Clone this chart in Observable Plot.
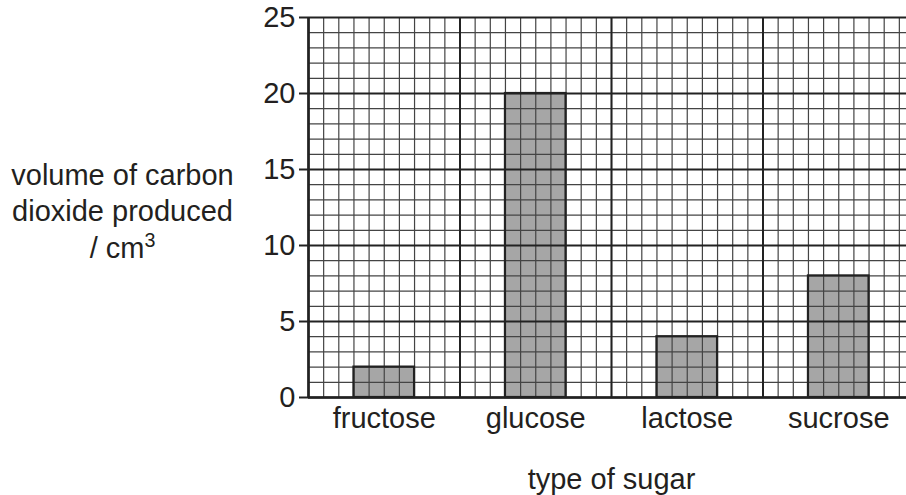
<!DOCTYPE html>
<html>
<head>
<meta charset="utf-8">
<script src="https://cdn.jsdelivr.net/npm/d3@7"></script>
<script src="https://cdn.jsdelivr.net/npm/@observablehq/plot@0.6"></script>
<style>
  html, body { margin: 0; padding: 0; background: #fff; overflow: hidden; }
  svg { overflow: hidden; }
</style>
</head>
<body>
<div id="chart"></div>
<script>
const categories = ["fructose", "glucose", "lactose", "sucrose"];
const values = [2, 20, 4, 8];
const yTicks = [0, 5, 10, 15, 20, 25];
const yLabelLines = ["volume of carbon", "dioxide produced", "/ cm³"];
const xLabel = "type of sugar";

const cellsPerCat = 10;
const data = categories.map((c, i) => ({
  cat: c,
  value: values[i],
  x1: i * cellsPerCat + 3,
  x2: i * cellsPerCat + 7,
  xc: i * cellsPerCat + 5
}));

const nCells = categories.length * cellsPerCat;
const minorX = d3.range(0, nCells + 1);
const majorX = d3.range(0, nCells + 1, cellsPerCat);
const minorY = d3.range(0, 26);
const majorY = yTicks;

const font = "'Liberation Sans', Arial, Helvetica, sans-serif";
const ink = "#231f20";
const fs = 29;

const chart = Plot.plot({
  width: 906,
  height: 495,
  marginLeft: 308,
  marginRight: -8,
  marginTop: 17,
  marginBottom: 98,
  style: { fontFamily: font, fontSize: fs + "px", color: ink, background: "#fff", overflow: "hidden" },
  x: { type: "linear", domain: [0, nCells], range: [308, 914], axis: null },
  y: { domain: [0, 25], range: [397, 17], axis: null },
  marks: [
    Plot.rect(data, { x1: "x1", x2: "x2", y1: 0, y2: "value", fill: "#a6a6a6" }),
    Plot.ruleX(minorX, { x: d => d, y1: 0, y2: 25, stroke: "#444", strokeWidth: 1.2 }),
    Plot.ruleY(minorY, { y: d => d, x1: 0, x2: nCells, stroke: "#444", strokeWidth: 1.2 }),
    Plot.ruleX(majorX, { x: d => d, y1: 0, y2: 25, stroke: "#222", strokeWidth: 2 }),
    Plot.ruleY(majorY, { y: d => d, x1: 0, x2: nCells, stroke: "#222", strokeWidth: 2 }),
    Plot.rect(data, { x1: "x1", x2: "x2", y1: 0, y2: "value", fill: "none", stroke: "#222", strokeWidth: 2.2 }),
    Plot.ruleX([0], { y1: 0, y2: 25, stroke: "#222", strokeWidth: 2.5 }),
    Plot.ruleY([0], { x1: 0, x2: nCells, stroke: "#222", strokeWidth: 2.5 }),
    Plot.ruleY(yTicks, { y: d => d, x1: 0, x2: 0, insetLeft: -9, stroke: "#222", strokeWidth: 2 }),
    Plot.text(yTicks, { y: d => d, x: 0, text: d => String(d), textAnchor: "end", dx: -13, fill: ink, fontSize: fs }),
    Plot.text(data, { x: "xc", y: 0, text: "cat", lineAnchor: "top", dy: 10, fill: ink, fontSize: fs }),
    Plot.text([xLabel], { frameAnchor: "bottom", text: d => d, lineAnchor: "middle", dy: 82, fill: ink, fontSize: fs }),
    Plot.text([yLabelLines.join("\n")], { frameAnchor: "left", text: d => d, textAnchor: "middle", lineAnchor: "middle", dx: -186, dy: 2, lineHeight: 1.26, fill: ink, fontSize: fs })
  ]
});
document.getElementById("chart").appendChild(chart);

// render the "³" as a proper superscript
chart.querySelectorAll("tspan, text").forEach(el => {
  if (el.childNodes.length === 1 && el.firstChild.nodeType === 3 && el.textContent.includes("³")) {
    const txt = el.textContent;
    el.textContent = txt.replace("³", "");
    const sup = document.createElementNS("http://www.w3.org/2000/svg", "tspan");
    sup.textContent = "3";
    sup.setAttribute("font-size", "0.68em");
    sup.setAttribute("dy", "-0.55em");
    el.appendChild(sup);
  }
});
</script>
</body>
</html>
